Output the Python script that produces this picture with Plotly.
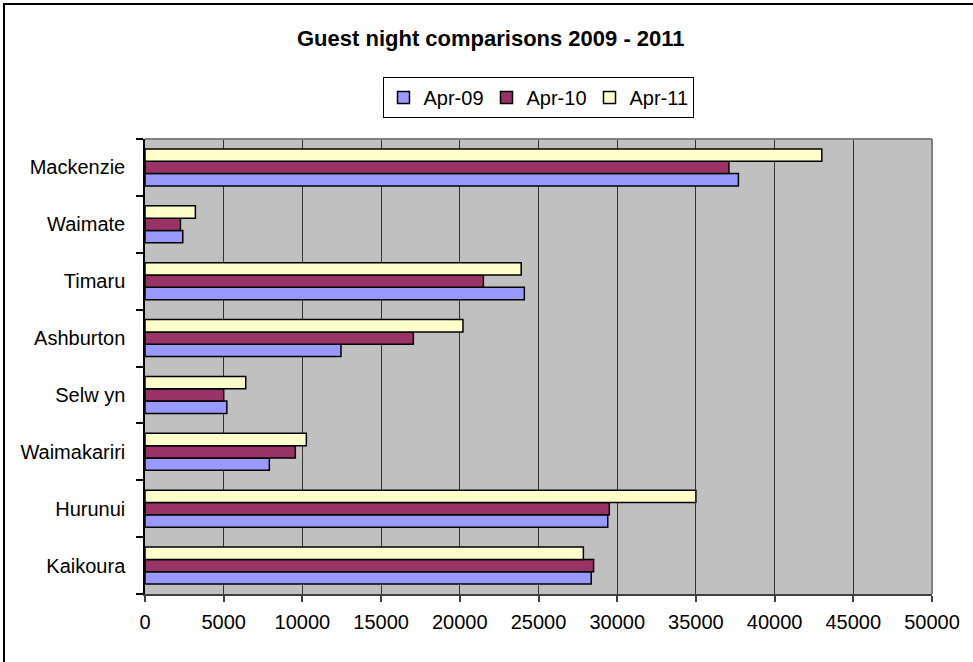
import plotly.graph_objects as go

# Regions, listed bottom to top as they appear on the category axis
regions = ["Kaikoura", "Hurunui", "Waimakariri", "Selw yn", "Ashburton",
           "Timaru", "Waimate", "Mackenzie"]

# Guest nights per region for each April
apr_09 = [28350, 29400, 7900, 5200, 12450, 24100, 2400, 37700]
apr_10 = [28500, 29500, 9550, 5000, 17050, 21500, 2250, 37100]
apr_11 = [27850, 35000, 10250, 6400, 20200, 23900, 3200, 43000]

series_names = ["Apr-09", "Apr-10", "Apr-11"]
series_values = [apr_09, apr_10, apr_11]
series_colors = ["#9999FF", "#993366", "#FFFFCC"]

x_ticks = list(range(0, 50001, 5000))

W, H = 973, 662
ML, MR, MT, MB = 145, 41, 139, 68
PW, PH = W - ML - MR, H - MT - MB

fig = go.Figure()
for name, vals, col in zip(series_names, series_values, series_colors):
    fig.add_trace(go.Bar(
        y=regions, x=vals, name=name, orientation="h",
        marker=dict(color=col, line=dict(color="#000000", width=1.5)),
    ))

font_family = "Liberation Sans, Arial, sans-serif"

fig.update_layout(
    width=W, height=H,
    margin=dict(l=ML, r=MR, t=MT, b=MB, pad=0),
    paper_bgcolor="#FFFFFF",
    plot_bgcolor="#C0C0C0",
    barmode="group",
    bargap=0.35,
    bargroupgap=0,
    font=dict(family=font_family, size=20, color="#000000"),
    title=dict(
        text="<b>Guest night comparisons 2009 - 2011</b>",
        x=297 / W, xanchor="left", xref="container",
        y=1 - 38 / H, yanchor="middle", yref="container",
        font=dict(family=font_family, size=22, color="#000000"),
    ),
    legend=dict(
        orientation="h",
        x=(538 - ML) / PW, xanchor="center",
        y=(H - MB - 77) / PH, yanchor="top",
        bordercolor="#000000", borderwidth=1,
        bgcolor="#FFFFFF",
        font=dict(family=font_family, size=20, color="#000000"),
        itemwidth=30,
        entrywidth=58, entrywidthmode="pixels",
        traceorder="normal",
    ),
    showlegend=True,
)

fig.update_xaxes(
    range=[0, 50000],
    tickvals=x_ticks,
    ticktext=[str(v) for v in x_ticks],
    showgrid=True, gridcolor="#333333", gridwidth=1,
    showline=True, linecolor="#404040", linewidth=1.5,
    ticks="outside", ticklen=6, tickcolor="#404040", tickwidth=1.5,
    ticklabelstandoff=3,
    zeroline=False,
    tickfont=dict(family=font_family, size=20, color="#000000"),
)

fig.update_yaxes(
    type="category",
    categoryorder="array", categoryarray=regions,
    showgrid=False,
    showline=True, linecolor="#000000", linewidth=1.5,
    ticks="outside", ticklen=7, tickcolor="#000000", tickwidth=1.5,
    tickson="boundaries",
    ticklabelstandoff=14,
    zeroline=False,
    tickfont=dict(family=font_family, size=20, color="#000000"),
)

# Grey frame along the top and right of the plotting area
fig.add_shape(type="line", xref="paper", yref="paper", x0=0, x1=1, y0=1, y1=1,
              line=dict(color="#808080", width=2))
fig.add_shape(type="line", xref="paper", yref="paper", x0=1, x1=1, y0=0, y1=1,
              line=dict(color="#808080", width=2))

# Outer chart border
fig.add_shape(type="rect", xref="paper", yref="paper",
              x0=(4 - ML) / PW, x1=(W + 20 - ML) / PW,
              y0=-(MB + 20) / PH, y1=(H - MB - 4) / PH,
              line=dict(color="#000000", width=2), fillcolor="rgba(0,0,0,0)")

fig.write_html("out.html")
